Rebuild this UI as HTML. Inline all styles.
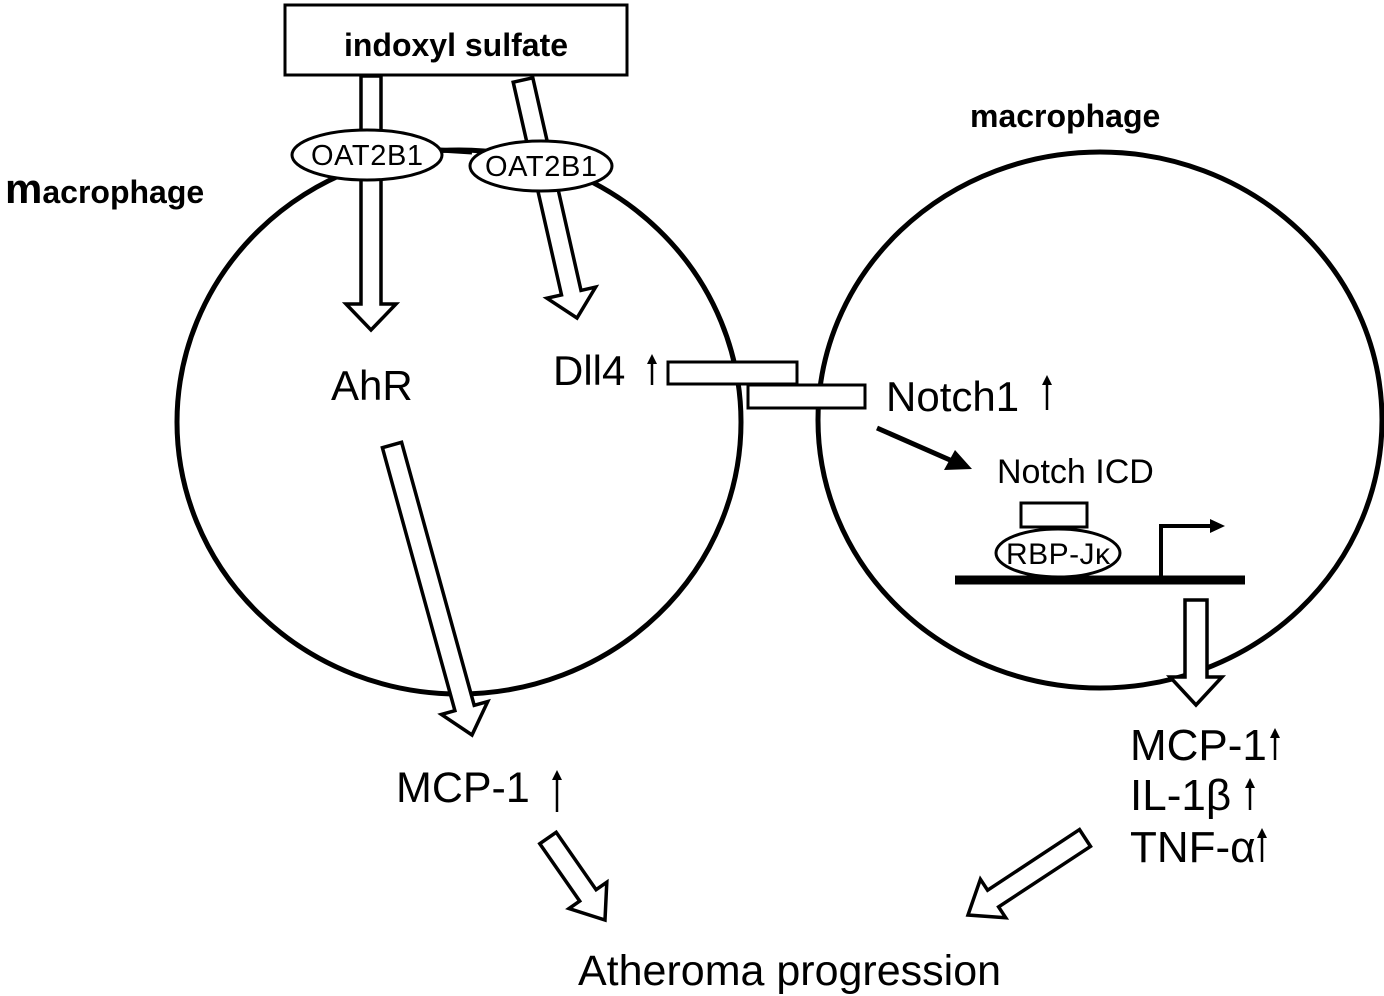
<!DOCTYPE html>
<html><head><meta charset="utf-8"><style>
body{margin:0;background:#fff;}
svg{display:block;font-family:"Liberation Sans",sans-serif;}
</style></head><body>
<svg id="s" width="1384" height="996" viewBox="0 0 1384 996" xmlns="http://www.w3.org/2000/svg">
<ellipse cx="459" cy="422" rx="282" ry="272" fill="none" stroke="#000" stroke-width="5"/>
<ellipse cx="1100" cy="420" rx="282" ry="268" fill="none" stroke="#000" stroke-width="5"/>
<g id="arrows"></g>
<rect x="285" y="5" width="342" height="70" fill="#fff" stroke="#000" stroke-width="3"/>
<text x="456" y="56" font-size="32" font-weight="bold" text-anchor="middle">indoxyl sulfate</text>
<line x1="440" y1="150" x2="472" y2="152" stroke="#000" stroke-width="5"/>
<ellipse cx="367" cy="155" rx="75" ry="25" fill="#fff" stroke="#000" stroke-width="3"/>
<text x="367" y="165" font-size="29" text-anchor="middle" textLength="112">OAT2B1</text>
<ellipse cx="541" cy="166" rx="71" ry="25" fill="#fff" stroke="#000" stroke-width="3"/>
<text x="541" y="176" font-size="29" text-anchor="middle" textLength="112">OAT2B1</text>
<text x="5" y="203" font-size="32" font-weight="bold"><tspan font-size="42">m</tspan>acrophage</text>
<text x="970" y="127" font-size="32" font-weight="bold">macrophage</text>
<text x="331" y="400" font-size="42">AhR</text>
<text x="553" y="385" font-size="42">Dll4</text>
<rect x="668" y="362" width="129" height="22" fill="#fff" stroke="#000" stroke-width="3"/>
<rect x="748" y="385" width="117" height="23" fill="#fff" stroke="#000" stroke-width="3"/>
<text x="886" y="411" font-size="42">Notch1</text>
<line x1="877" y1="428" x2="950" y2="460" stroke="#000" stroke-width="5"/>
<polygon points="972,469 944,470 955,450" fill="#000"/>
<text x="997" y="483" font-size="34">Notch ICD</text>
<rect x="1021" y="503" width="66" height="24" fill="#fff" stroke="#000" stroke-width="3"/>
<ellipse cx="1058" cy="553" rx="62" ry="24" fill="#fff" stroke="#000" stroke-width="3"/>
<text x="1058" y="564" font-size="30" text-anchor="middle" textLength="104">RBP-Jκ</text>
<line x1="955" y1="580" x2="1245" y2="580" stroke="#000" stroke-width="9"/>
<polyline points="1161,578 1161,526 1210,526" fill="none" stroke="#000" stroke-width="4"/>
<polygon points="1225,526 1210,519 1210,533" fill="#000"/>
<text x="1130" y="760" font-size="44">MCP-1</text>
<text x="1130" y="810" font-size="44">IL-1β</text>
<text x="1130" y="862" font-size="44">TNF-α</text>
<text x="396" y="802" font-size="43">MCP-1</text>
<text x="578" y="985" font-size="43">Atheroma progression</text>
<g id="up"></g>
</svg>
<script>
var NS="http://www.w3.org/2000/svg";
function hollow(x1,y1,x2,y2,w,hw,hl){
 var dx=x2-x1,dy=y2-y1,L=Math.hypot(dx,dy),ux=dx/L,uy=dy/L,px=-uy,py=ux;
 var bx=x2-ux*hl,by=y2-uy*hl;
 var p=[[x1+px*w/2,y1+py*w/2],[bx+px*w/2,by+py*w/2],[bx+px*hw/2,by+py*hw/2],[x2,y2],[bx-px*hw/2,by-py*hw/2],[bx-px*w/2,by-py*w/2],[x1-px*w/2,y1-py*w/2]];
 var e=document.createElementNS(NS,"polygon");
 e.setAttribute("points",p.map(function(q){return q[0].toFixed(1)+","+q[1].toFixed(1)}).join(" "));
 e.setAttribute("fill","#fff");e.setAttribute("stroke","#000");e.setAttribute("stroke-width","3.5");
 document.getElementById("arrows").appendChild(e);
}
hollow(371,76,371,330,20,50,26);
hollow(523,80,577,318,20,50,26);
hollow(392,445,472,735,20,48,28);
hollow(1196,600,1196,705,22,52,28);
hollow(548,838,605,920,20,46,30);
hollow(1085,838,968,915,20,46,30);
function up(x,y1,y2){
 var g=document.getElementById("up");
 var l=document.createElementNS(NS,"line");
 l.setAttribute("x1",x);l.setAttribute("x2",x);l.setAttribute("y1",y1);l.setAttribute("y2",y2+6);
 l.setAttribute("stroke","#000");l.setAttribute("stroke-width","2.5");g.appendChild(l);
 var p=document.createElementNS(NS,"polygon");
 p.setAttribute("points",(x-5)+","+(y2+10)+" "+x+","+y2+" "+(x+5)+","+(y2+10));
 p.setAttribute("fill","#000");g.appendChild(p);
}
up(652,385,354);
up(1047,410,375);
up(557,812,770);
up(1275,760,728);
up(1250,810,778);
up(1262,862,828);
</script>
</body></html>
